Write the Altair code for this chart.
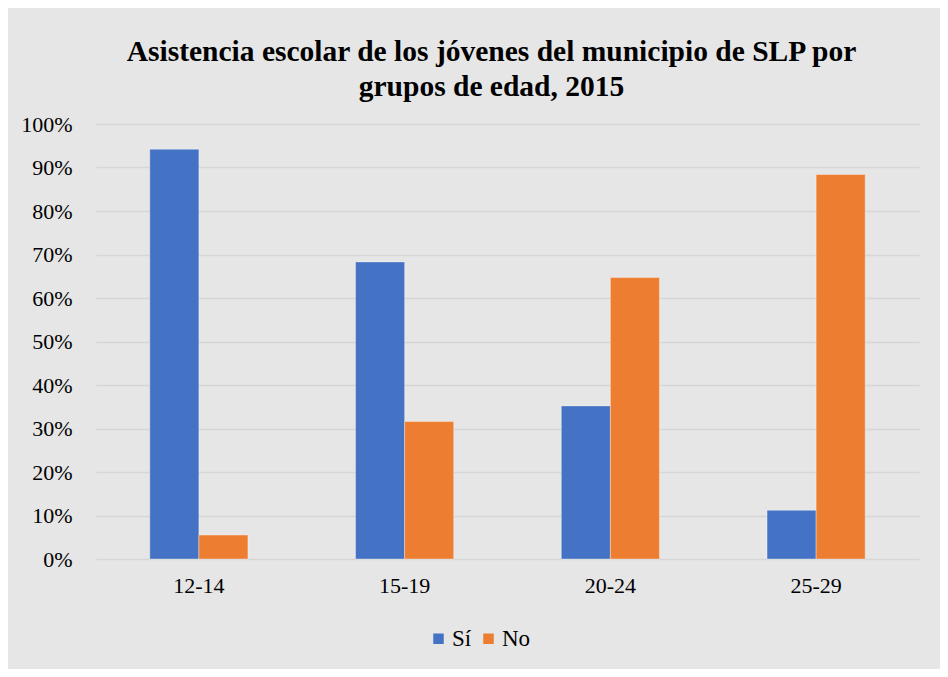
import altair as alt
import pandas as pd

groups = ["12-14", "15-19", "20-24", "25-29"]
si = [94.2, 68.3, 35.2, 11.2]
no = [5.5, 31.6, 64.7, 88.4]
series = ["Sí", "No"]
colors = ["#4472C4", "#ED7D31"]

rows = []
for g, a, b in zip(groups, si, no):
    rows.append({"grupo": g, "serie": "Sí", "valor": a / 100})
    rows.append({"grupo": g, "serie": "No", "valor": b / 100})
df = pd.DataFrame(rows)

FONT = "Liberation Serif"

chart = alt.Chart(df).mark_bar(stroke="#ffffff", strokeOpacity=0.35, strokeWidth=1).encode(
    x=alt.X("grupo:N", sort=groups, title=None,
            scale=alt.Scale(paddingInner=0.523, paddingOuter=0.2615),
            axis=alt.Axis(labelAngle=0, labelFont=FONT, labelFontSize=22,
                          labelColor="#000000", labelPadding=16, ticks=False,
                          domain=False, grid=False)),
    xOffset=alt.XOffset("serie:N", sort=series, scale=alt.Scale(paddingInner=0, paddingOuter=0)),
    y=alt.Y("valor:Q", title=None,
            scale=alt.Scale(domain=[0, 1], nice=False),
            axis=alt.Axis(format=".0%", values=[i / 10 for i in range(11)],
                          labelFont=FONT, labelFontSize=22, labelColor="#000000",
                          labelPadding=24, ticks=False, domain=False,
                          gridColor="#D6D6D6", gridWidth=1.5)),
    color=alt.Color("serie:N", sort=series,
                    scale=alt.Scale(domain=series, range=colors),
                    legend=alt.Legend(title=None, orient="none", direction="horizontal",
                                      legendX=331, legendY=503,
                                      symbolType="square", symbolSize=110,
                                      symbolStrokeWidth=0,
                                      labelFont=FONT, labelFontSize=23,
                                      labelColor="#000000", labelOffset=2,
                                      columnPadding=5)),
).properties(
    width=823,
    height=435,
    title=alt.TitleParams(
        text=["Asistencia escolar de los jóvenes del municipio de SLP por",
              "grupos de edad, 2015"],
        font=FONT, fontSize=29.5, fontWeight="bold", color="#000000",
        lineHeight=35, anchor="middle", dx=-16, offset=11,
    ),
    background="#E6E6E6",
    padding={"left": 88, "top": 116, "right": 21, "bottom": 110},
    autosize=alt.AutoSizeParams(type="none"),
).configure_view(stroke=None)

chart.save("out.html", embed_options={"renderer": "svg", "actions": False})
